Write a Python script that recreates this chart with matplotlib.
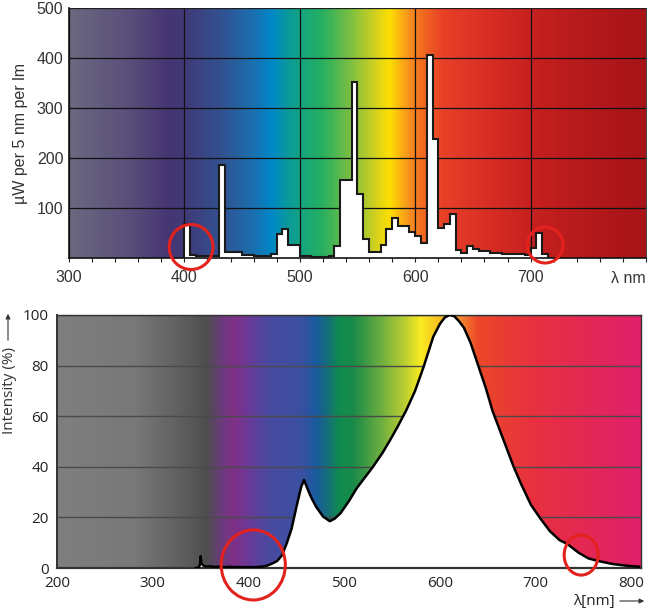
import numpy as np
import matplotlib
matplotlib.use("Agg")
import matplotlib.pyplot as plt
from matplotlib.colors import LinearSegmentedColormap
from matplotlib.patches import Ellipse, FancyArrowPatch
from matplotlib.ticker import MultipleLocator

# ---------------- data: top chart (5 nm bins, µW per 5 nm per lm) ----------------
top_bin_start = [395, 400, 405, 410, 415, 420, 425, 430, 435, 440, 445, 450, 455, 460,
                 465, 470, 475, 480, 485, 490, 495, 500, 505, 510, 515, 520, 525, 530,
                 535, 540, 545, 550, 555, 560, 565, 570, 575, 580, 585, 590, 595, 600,
                 605, 610, 615, 620, 625, 630, 635, 640, 645, 650, 655, 660, 665, 670,
                 675, 680, 685, 690, 695, 700, 705, 710, 715]
top_power = [0, 68, 6, 3, 3, 3, 3, 185, 12, 12, 12, 6, 6, 3,
             3, 3, 8, 47, 57, 25, 25, 4, 4, 2, 2, 2, 4, 23,
             156, 156, 351, 127, 37, 12, 12, 26, 57, 79, 64, 64, 51, 43,
             29, 407, 237, 59, 68, 88, 16, 9, 23, 17, 13, 13, 10, 10,
             8, 8, 7, 7, 5, 20, 49, 8, 0]
top_xticks = [300, 400, 500, 600, 700]
top_yticks = [100, 200, 300, 400, 500]

# ---------------- data: bottom chart (relative intensity %) ----------------
bottom_wavelength = [345, 348, 349.5, 350, 351, 353, 356, 360, 365, 370, 375, 380, 385,
                     390, 395, 400, 405, 410, 415, 420, 425, 430, 435, 440, 445, 450,
                     455, 458, 462, 466, 471, 478, 485, 490, 496, 505, 513, 522, 530,
                     540, 548, 556, 565, 574, 583, 593, 600, 605, 610, 615, 620, 625,
                     632, 640, 648, 655, 660, 668, 677, 685, 695, 705, 715, 725, 733,
                     745, 755, 765, 780, 795, 808]
bottom_intensity = [0, 0.2, 1.5, 4.7, 1.8, 0.9, 0.6, 0.7, 0.4, 0.6, 0.3, 0.5, 0.3,
                    0.4, 0.3, 0.4, 0.3, 0.4, 0.6, 1.0, 1.8, 2.8, 5.0, 9.8, 15.5, 24,
                    32, 34.8, 31, 27.5, 24, 20.3, 18.5, 19.5, 21.6, 26.5, 31.5, 36, 40,
                    45.5, 50.6, 56, 62.5, 70, 79.6, 91.4, 96.5, 99, 100, 99.5, 97.5, 95,
                    89, 80, 71, 62, 57, 49, 40, 33, 25, 19.5, 14.5, 11, 9.5,
                    6, 3.8, 2.8, 1.6, 0.9, 0.5]
bottom_xticks = [200, 300, 400, 500, 600, 700, 800]
bottom_yticks = [0, 20, 40, 60, 80, 100]

# ---------------- background spectrum gradients ----------------
top_grad_nm = [300, 350, 385, 400, 430, 460, 475, 490, 505, 520, 545, 565, 578,
               595, 610, 625, 660, 700, 750, 800]
top_grad_colors = ["#6b6880", "#5a4f7a", "#463572", "#403a78", "#33508f", "#1a70b0",
                   "#0088c8", "#0a9a9a", "#18a878", "#28b060", "#80c040", "#d0d020",
                   "#ffe000", "#f89020", "#f06020", "#e84028", "#d83024", "#c82020",
                   "#b41a1c", "#a81418"]
bot_grad_nm = [200, 280, 330, 355, 372, 385, 400, 420, 455, 470, 480, 495, 510,
               540, 565, 580, 600, 620, 640, 700, 810]
bot_grad_colors = ["#7f7f7f", "#787878", "#5e5e5e", "#4e4e4e", "#6c3a7c", "#803088",
                   "#6a3a98", "#4a4aa0", "#3a50a0", "#1a5aa0", "#156a80", "#108a50",
                   "#1a8a48", "#70b040", "#c0d030", "#f8ec20", "#f8c020", "#f89030",
                   "#ec4828", "#e83040", "#e0206a"]


def gradient(ax, nm, cols, xlim, ylim):
    nm = np.asarray(nm, float)
    pos = (nm - xlim[0]) / (xlim[1] - xlim[0])
    cmap = LinearSegmentedColormap.from_list("spec", list(zip(pos, cols)))
    grad = np.linspace(0, 1, 800)[None, :]
    ax.imshow(grad, cmap=cmap, aspect="auto", extent=[xlim[0], xlim[1], ylim[0], ylim[1]],
              origin="lower", zorder=0, interpolation="bilinear")


fig = plt.figure(figsize=(6.5, 6.15), dpi=100)
W, H = 650.0, 615.0

# ================= TOP CHART =================
ax1 = fig.add_axes([69 / W, 1 - 258 / H, 577 / W, 250 / H])
xl1, yl1 = (300, 800), (0, 500)
gradient(ax1, top_grad_nm, top_grad_colors, xl1, yl1)
ax1.set_xlim(*xl1)
ax1.set_ylim(*yl1)
edges = list(top_bin_start) + [top_bin_start[-1] + 5]
ax1.stairs(top_power, edges, fill=True, color="white", zorder=2)
ax1.stairs(top_power, edges, color="#1a1a1a", lw=1.5, zorder=3)
ax1.set_axisbelow(True)
ax1.set_xticks(top_xticks)
ax1.set_yticks(top_yticks)
ax1.xaxis.set_minor_locator(MultipleLocator(20))
ax1.grid(True, which="major", color="#111111", lw=0.9)
tfont = dict(family="Liberation Sans", size=11.5, color="#333333")
ax1.set_xticklabels([str(v) for v in top_xticks], **tfont)
ax1.set_yticklabels([str(v) for v in top_yticks], **tfont)
ax1.tick_params(axis="x", which="both", direction="out", length=3, width=0.8,
                color="#222222", pad=6)
ax1.tick_params(axis="y", length=0, pad=4)
for s in ["left", "bottom"]:
    ax1.spines[s].set_color("#111111")
    ax1.spines[s].set_linewidth(1.2)
for s in ["top", "right"]:
    ax1.spines[s].set_color("#222222")
    ax1.spines[s].set_linewidth(0.6)
ax1.set_ylabel("µW per 5 nm per lm", fontdict=dict(family="Liberation Sans", size=11.5,
               color="#333333"), labelpad=6)
ax1.annotate("λ nm", xy=(1, 0), xycoords="axes fraction", xytext=(0, -9.5),
             textcoords="offset points", ha="right", va="top", **tfont)
for cx, cy, w, h in [(405.8, 22, 38, 90), (712.6, 26, 31, 72)]:
    ax1.add_patch(Ellipse((cx, cy), w, h, fill=False, edgecolor="#e3221e", lw=2.2,
                          clip_on=False, zorder=6))

# ================= BOTTOM CHART =================
ax2 = fig.add_axes([57 / W, 1 - 568 / H, 584 / W, 253 / H])
xl2, yl2 = (200, 810), (0, 100)
gradient(ax2, bot_grad_nm, bot_grad_colors, xl2, yl2)
ax2.set_xlim(*xl2)
ax2.set_ylim(*yl2)
ax2.fill_between(bottom_wavelength, bottom_intensity, 0, color="white", lw=0, zorder=2)
ax2.plot(bottom_wavelength, bottom_intensity, color="black", lw=1.8, zorder=3)
ax2.set_axisbelow(True)
ax2.set_xticks(bottom_xticks)
ax2.set_yticks(bottom_yticks)
ax2.yaxis.grid(True, color="#4a4a4a", lw=1.0)
bfont = dict(family="Open Sans", size=11, color="#222222")
ax2.set_xticklabels([str(v) for v in bottom_xticks], **bfont)
ax2.set_yticklabels([str(v) for v in bottom_yticks], **bfont)
ax2.tick_params(length=0)
ax2.tick_params(axis="x", pad=6)
ax2.tick_params(axis="y", pad=6)
for s in ax2.spines.values():
    s.set_color("#333333")
    s.set_linewidth(1.0)
ax2.spines["bottom"].set_linewidth(1.6)
ax2.spines["left"].set_linewidth(1.4)

fig.text(10 / W, 1 - 390 / H, "Intensity (%)", rotation=90, ha="center", va="center",
         family="Open Sans", size=11, color="#333333")
fig.add_artist(FancyArrowPatch((8 / W, 1 - 343 / H), (8 / W, 1 - 311 / H),
               transform=fig.transFigure, arrowstyle="-|>", mutation_scale=7,
               color="#333333", lw=0.8))
fig.text(594 / W, 1 - 601 / H, "λ[nm]", ha="center", va="center",
         family="Open Sans", size=11, color="#222222")
fig.add_artist(FancyArrowPatch((617 / W, 1 - 601 / H), (647 / W, 1 - 601 / H),
               transform=fig.transFigure, arrowstyle="-|>", mutation_scale=7,
               color="#333333", lw=0.8))
for cx, cy, w, h in [(405, 1.2, 67, 27.7), (747.5, 5.1, 35.5, 15.8)]:
    ax2.add_patch(Ellipse((cx, cy), w, h, fill=False, edgecolor="#e3221e", lw=2.2,
                          clip_on=False, zorder=6))

fig.savefig("out.png", dpi=100)
